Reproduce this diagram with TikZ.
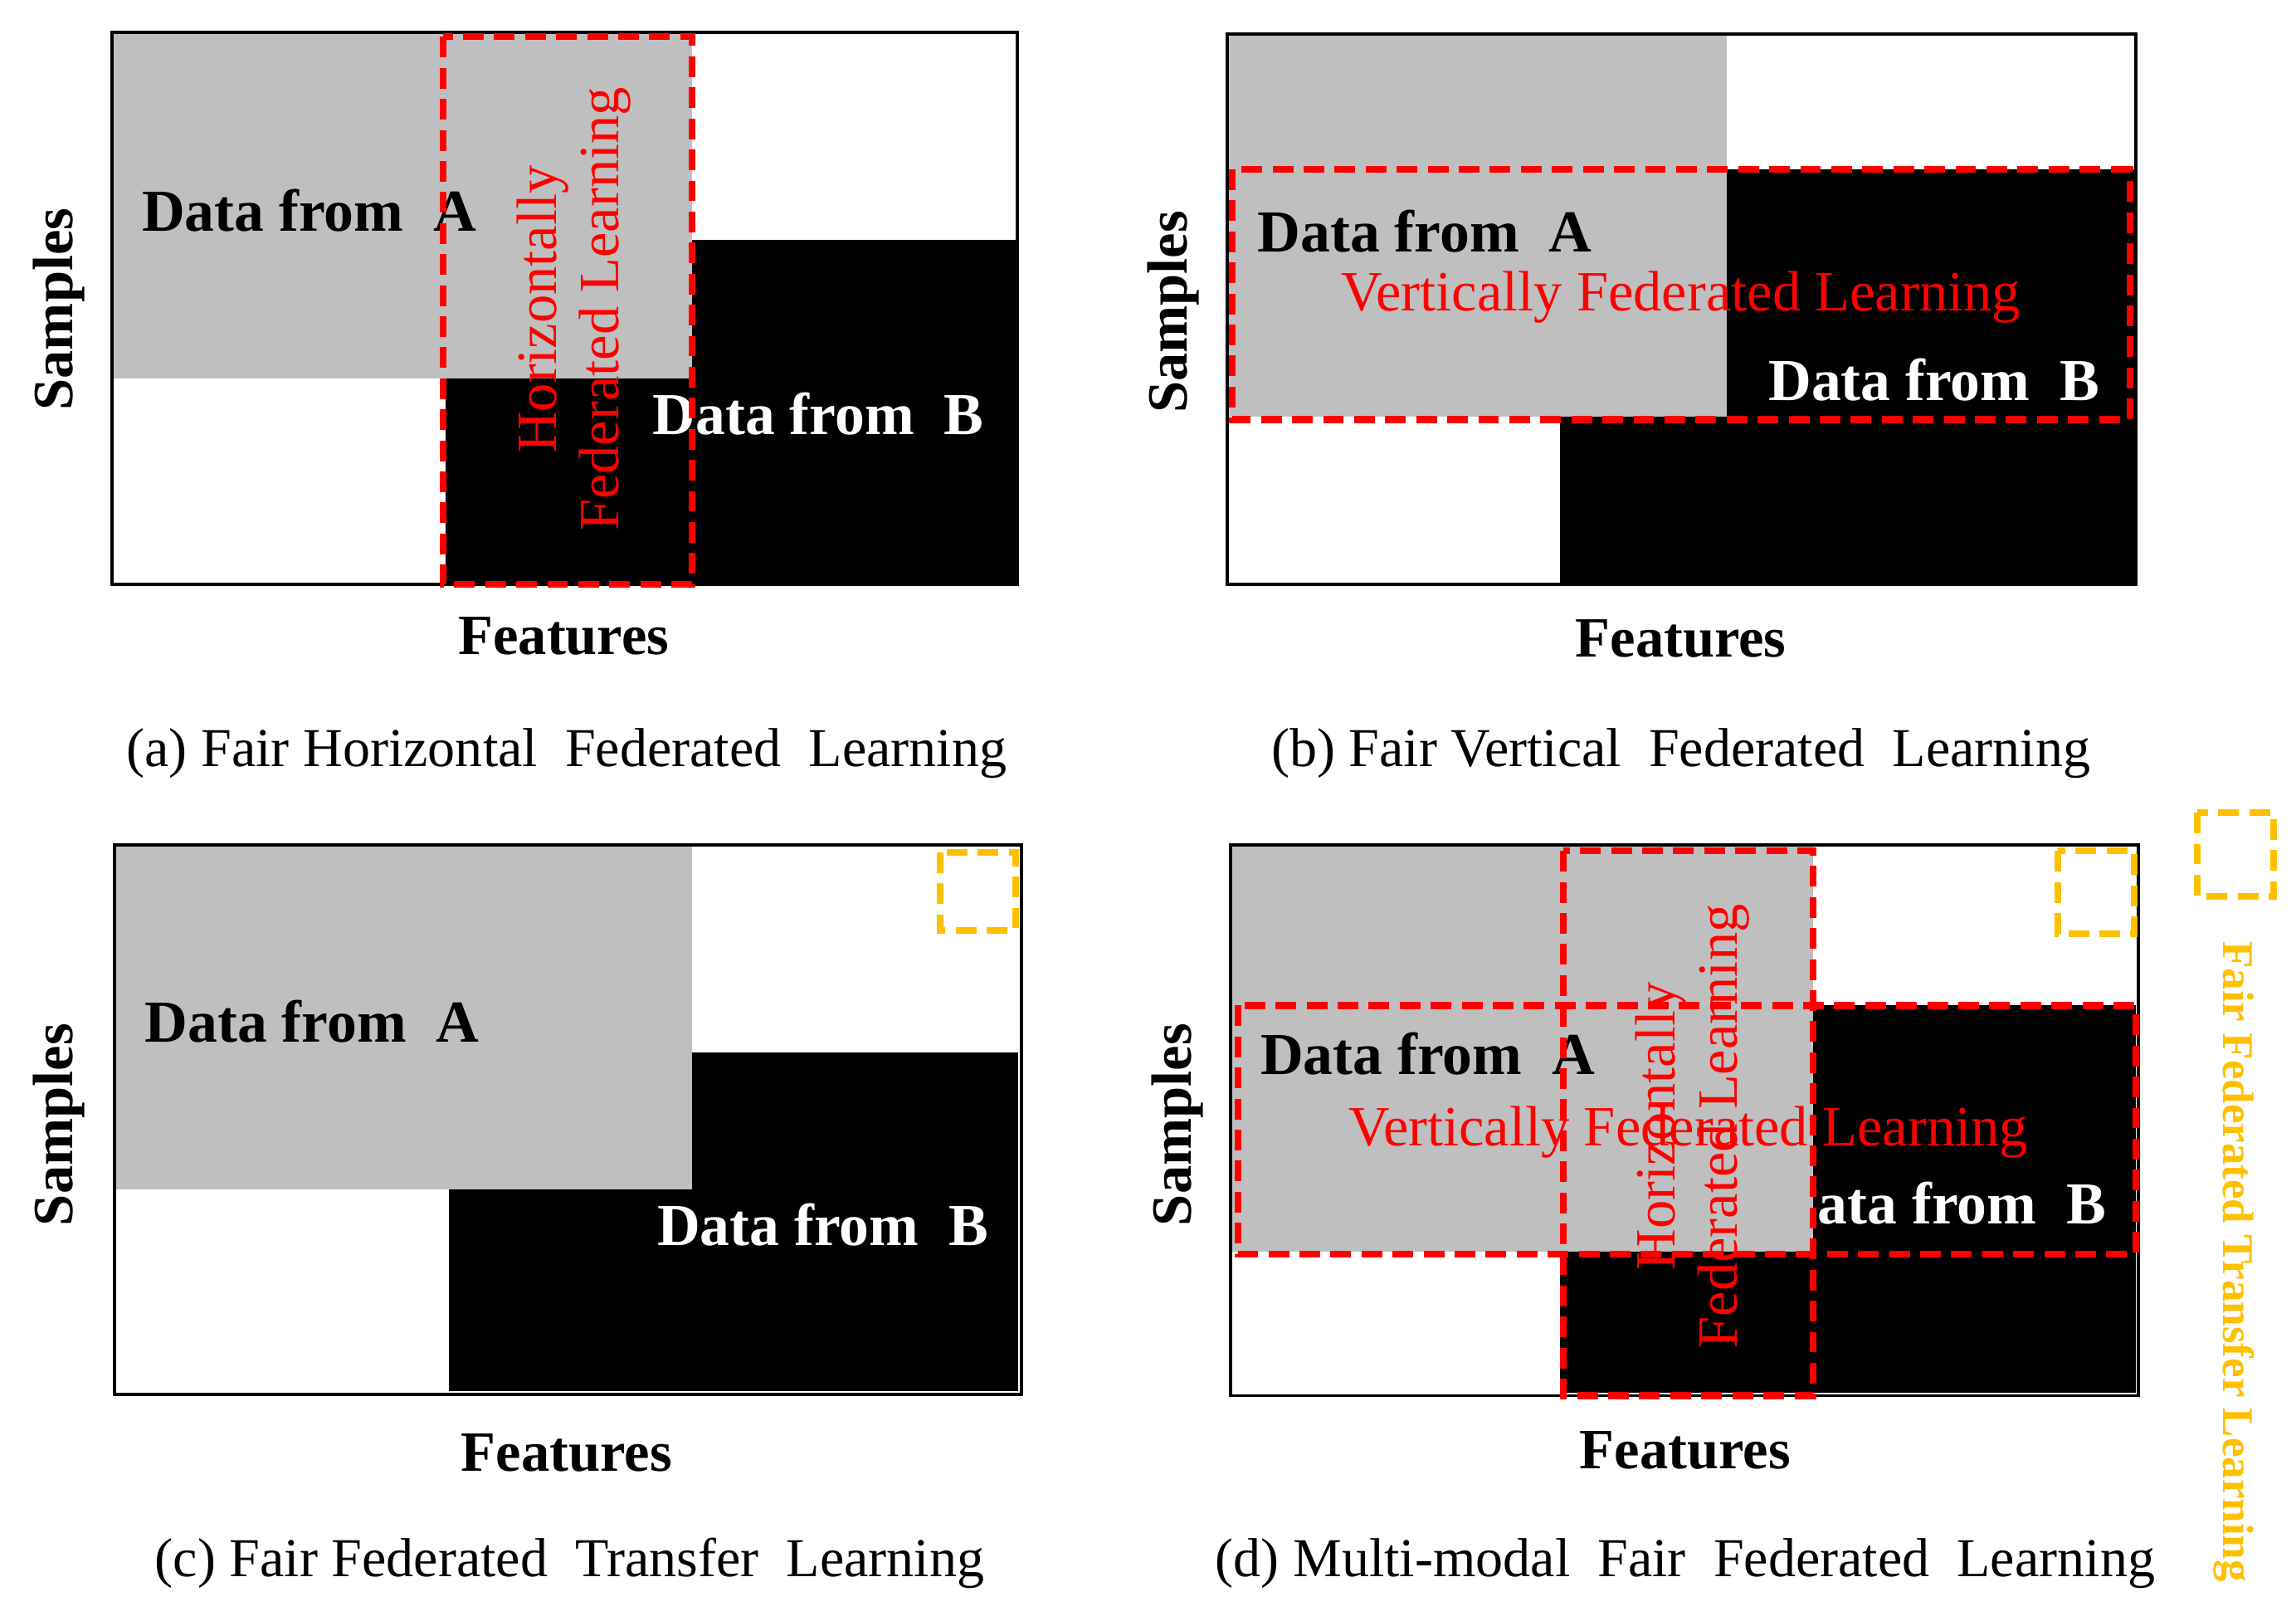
\documentclass[tikz,border=0pt]{standalone}
\usepackage{fontspec}
\setmainfont{Liberation Serif}
\definecolor{gr}{RGB}{191,191,191}
\definecolor{gold}{RGB}{255,192,0}
\begin{document}
\begin{tikzpicture}[x=0.1mm,y=-0.1mm,
  frame/.style={draw=black,line width=0.6pt},
  grayb/.style={fill=gr},
  blackb/.style={fill=black},
  rdash/.style={draw=red,line width=1.3pt,dash pattern=on 4pt off 2pt},
  odash/.style={draw=gold,line width=1.3pt,dash pattern=on 4pt off 2pt},
  lab/.style={font=\fontsize{11.5}{13}\selectfont\bfseries},
  wlab/.style={lab,text=white},
  axis/.style={font=\fontsize{11}{13}\selectfont\bfseries},
  capt/.style={font=\fontsize{10.6}{13}\selectfont},
  rtxt/.style={font=\fontsize{11}{12}\selectfont,text=red,align=center}]
\useasboundingbox (0,0) rectangle (1560,1101);
% (a)
\fill[blackb] (303,163) rectangle (691,397);
\fill[grayb] (76,22) rectangle (470,257);
\draw[frame] (76,22) rectangle (691,397);
\node[lab] (a1) at (210,143) {Data from \ A};
\node[wlab] (a2) at (556,281) {Data from \ B};
\node[rtxt,rotate=90] (a3) at (390,210) {Horizontally\\Federated Learning};
\draw[rdash] (301,25) rectangle (470,397);
\node[axis,rotate=90] (a4) at (40,210) {Samples};
\node[axis] (a5) at (383,432) {Features};
\node[capt] (a6) at (385,512) {(a) Fair Horizontal \ Federated \ Learning};
% (b)
\fill[blackb] (1060,115) rectangle (1451,397);
\fill[grayb] (834,23) rectangle (1173,283);
\draw[frame] (834,23) rectangle (1451,397);
\node[lab] (b1) at (968,157) {Data from \ A};
\node[rtxt] (b2) at (1142,202) {Vertically Federated Learning};
\node[wlab] (b3) at (1314,258) {Data from \ B};
\draw[rdash] (837,115) rectangle (1447,285);
\node[axis,rotate=90] (b4) at (797,212) {Samples};
\node[axis] (b5) at (1142,434) {Features};
\node[capt] (b6) at (1142,512) {(b) Fair Vertical \ Federated \ Learning};
% (c)
\fill[blackb] (305,715) rectangle (692,945);
\fill[grayb] (78,574) rectangle (470,808);
\draw[frame] (78,574) rectangle (694,947);
\node[lab] (c1) at (212,694) {Data from \ A};
\node[wlab] (c2) at (559,832) {Data from \ B};
\draw[odash] (639,579) rectangle (690,632);
\node[axis,rotate=90] (c4) at (40,764) {Samples};
\node[axis] (c5) at (385,987) {Features};
\node[capt] (c6) at (387,1062) {(c) Fair Federated \ Transfer \ Learning};
% (d)
\fill[blackb] (1060,683) rectangle (1451,946);
\fill[grayb] (836,574) rectangle (1232,850);
\draw[frame] (836,574) rectangle (1453,948);
\node[lab] (d1) at (970,716) {Data from \ A};
\node[rtxt] (d2) at (1147,769) {Vertically Federated Learning};
\node[wlab] (d3) at (1333,817) {ata from \ B};
\node[rtxt,rotate=90] (d7) at (1150,765) {Horizontally\\Federated Learning};
\draw[rdash] (1062,578) rectangle (1232,948);
\draw[rdash] (841,683) rectangle (1451,852);
\draw[odash] (1398,578) rectangle (1450,634);
\node[axis,rotate=90] (d4) at (800,764) {Samples};
\node[axis] (d5) at (1145,985) {Features};
\node[capt] (d6) at (1145,1062) {(d) Multi-modal \ Fair \ Federated \ Learning};
% outside legend
\draw[odash] (1493,552) rectangle (1545,609);
\node[rotate=-90,text=gold,font=\fontsize{8.5}{10}\selectfont\bfseries] (e1) at (1518,857) {Fair Federated Transfer Learning};
\end{tikzpicture}
\end{document}
